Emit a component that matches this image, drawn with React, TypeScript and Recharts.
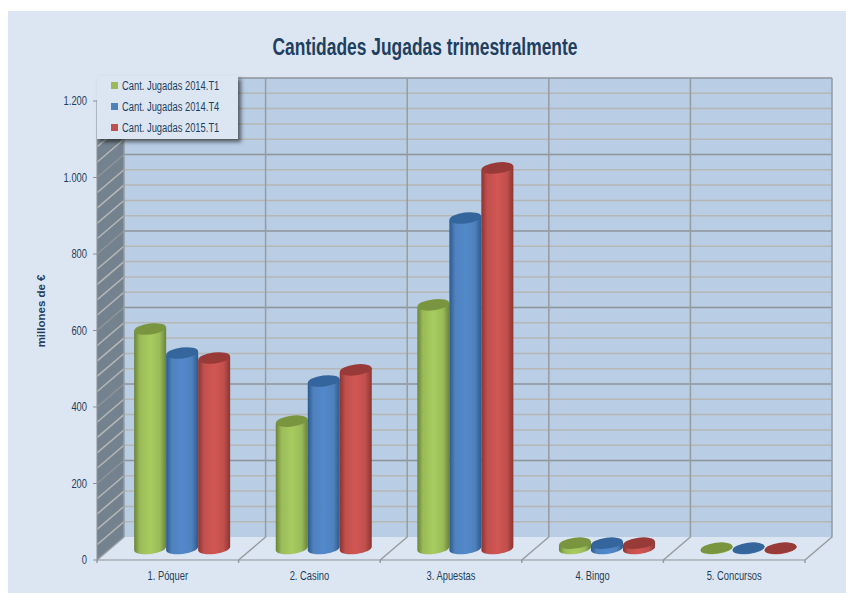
import { BarChart, Bar, XAxis, YAxis, ReferenceLine, ReferenceArea, Legend } from "recharts";

const CATEGORIES = ["1. Póquer", "2. Casino", "3. Apuestas", "4. Bingo", "5. Concursos"];
const JUGADAS_2014_T1 = [574, 333, 637, 14, 1];
const JUGADAS_2014_T4 = [511, 438, 864, 14, 1];
const JUGADAS_2015_T1 = [498, 467, 995, 14, 1];
const Y_TICKS = [0, 200, 400, 600, 800, 1000, 1200];
const MINOR_GRID = [40, 80, 120, 160, 240, 280, 320, 360, 440, 480, 520, 560, 640, 680, 720, 760, 840, 880, 920, 960, 1040, 1080, 1120, 1160];
const MAJOR_GRID = [200, 400, 600, 800, 1000, 1200];
const FLOOR_LINES = [0, 1, 2, 3, 4, 5];

const SERIES = [
  { key: "t1", name: "Cant. Jugadas 2014.T1", color: "#9bbb59", edge: "#6a8438", light: "#a8cc60", top: "#7a953f" },
  { key: "t4", name: "Cant. Jugadas 2014.T4", color: "#4f81bd", edge: "#2c5a8e", light: "#5289cc", top: "#34659c" },
  { key: "t5", name: "Cant. Jugadas 2015.T1", color: "#c0504d", edge: "#8b3432", light: "#d25653", top: "#973a38" },
];

const data = CATEGORIES.map((category, i) => ({
  category,
  slot: i,
  t1: JUGADAS_2014_T1[i],
  t4: JUGADAS_2014_T4[i],
  t5: JUGADAS_2015_T1[i],
}));

// depth of the fake 3d box
const DX = 27;
const DY = 23;
const FONT = '"Liberation Sans", sans-serif';
const TEXT = "#1f3f60";
const NARROW = 0.78;

const formatThousands = (v: number) =>
  v >= 1000 ? `${Math.floor(v / 1000)}.${String(v % 1000).padStart(3, "0")}` : `${v}`;

const Walls = ({ x, y, width, height }: any) => {
  const bottom = y + height;
  const right = x + width;
  return (
    <g>
      <polygon
        points={`${x + DX},${y - DY} ${right + DX},${y - DY} ${right + DX},${bottom - DY} ${x + DX},${bottom - DY}`}
        fill="#b9cde5"
      />
      <polygon
        points={`${x},${y} ${x + DX},${y - DY} ${x + DX},${bottom - DY} ${x},${bottom}`}
        fill="#74828f"
      />
    </g>
  );
};

const wallLine = (stroke: string) => ({ x1, y1, x2 }: any) => (
  <polyline
    points={`${x1},${y1} ${x1 + DX},${y1 - DY} ${x2 + DX},${y1 - DY}`}
    fill="none"
    stroke={stroke}
    strokeWidth={1.5}
  />
);

const FloorLine = ({ x1, y1, y2 }: any) => {
  const top = Math.min(y1, y2);
  const bottom = Math.max(y1, y2);
  return (
    <g fill="none" stroke="#979ca1" strokeWidth={1.5}>
      <polyline points={`${x1},${bottom} ${x1 + DX},${bottom - DY} ${x1 + DX},${top - DY}`} />
      <line x1={x1} y1={bottom} x2={x1} y2={bottom + 3} />
    </g>
  );
};

const Cylinder = ({ x, y, width, height, index, gradient, top }: any) => {
  const rx = width / 2;
  const ry = 5.5;
  const tilt = 2;
  const left = x + DX / 2 + 1;
  const right = left + width;
  const yTop = y - DY / 2;
  const yBottom = yTop + height;
  const d = `M${left},${yTop + tilt} L${left},${yBottom + tilt} A${rx} ${ry} -7 0 0 ${right},${yBottom - tilt} L${right},${yTop - tilt} Z`;
  return (
    <g key={index}>
      <path d={d} fill={`url(#${gradient})`} />
      <ellipse
        cx={left + rx}
        cy={yTop}
        rx={rx}
        ry={ry}
        fill={top}
        transform={`rotate(-7 ${left + rx} ${yTop})`}
      />
    </g>
  );
};

const LegendBox = () => (
  <div
    style={{
      width: 141,
      height: 63,
      background: "#dce6f2",
      boxShadow: "3px 3px 4px rgba(0,0,0,0.55)",
      fontFamily: FONT,
      fontSize: 12,
      color: TEXT,
      position: "relative",
    }}
  >
    {SERIES.map((s, i) => (
      <div key={s.key} style={{ position: "absolute", left: 14, top: 1 + i * 21, height: 18, lineHeight: "18px", whiteSpace: "nowrap" }}>
        <span style={{ display: "inline-block", width: 7, height: 7, background: s.color, marginRight: 4, verticalAlign: 1 }} />
        <span style={{ display: "inline-block", transform: `scaleX(${NARROW})`, transformOrigin: "left center" }}>{s.name}</span>
      </div>
    ))}
  </div>
);

const CategoryTick = ({ x, y, payload }: any) => (
  <text
    transform={`translate(${x},${y + 12}) scale(${NARROW},1)`}
    textAnchor="middle"
    fontFamily={FONT}
    fontSize={12}
    fill={TEXT}
  >
    {payload.value}
  </text>
);

const ValueTick = ({ x, y, payload }: any) => (
  <text
    transform={`translate(${x},${y + 4}) scale(${NARROW},1)`}
    textAnchor="end"
    fontFamily={FONT}
    fontSize={12}
    fill={TEXT}
  >
    {formatThousands(payload.value)}
  </text>
);

export default function App() {
  return (
    <div style={{ position: "absolute", left: 0, top: 0, width: 846, height: 593 }}>
      <div style={{ position: "absolute", left: 8, top: 11, width: 838, height: 582, background: "#dce6f2" }} />
      <BarChart
        width={846}
        height={593}
        data={data}
        margin={{ top: 101, right: 41, bottom: 3, left: 47 }}
        barCategoryGap="16%"
        barGap={0}
        style={{ position: "absolute", left: 0, top: 0 }}
      >
        <defs>
          {SERIES.map((s) => (
            <linearGradient key={s.key} id={`cyl-${s.key}`} x1="0" x2="1" y1="0" y2="0">
              <stop offset="0%" stopColor={s.edge} />
              <stop offset="18%" stopColor={s.color} />
              <stop offset="50%" stopColor={s.light} />
              <stop offset="80%" stopColor={s.color} />
              <stop offset="100%" stopColor={s.edge} />
            </linearGradient>
          ))}
        </defs>
        <text
          x={425}
          y={55}
          textAnchor="middle"
          fontFamily={FONT}
          fontSize={23}
          fontWeight="bold"
          fill={TEXT}
          textLength={305}
          lengthAdjust="spacingAndGlyphs"
        >
          Cantidades Jugadas trimestralmente
        </text>
        <XAxis dataKey="category" height={30} stroke="#8c9196" tickLine={false} tick={<CategoryTick />} interval={0} />
        <XAxis xAxisId="band" dataKey="slot" type="number" scale="linear" domain={[0, 5]} allowDataOverflow hide />
        <YAxis
          domain={[0, 1200]}
          ticks={Y_TICKS}
          stroke="#8c9196"
          tickSize={4}
          tickMargin={6}
          width={50}
          tick={<ValueTick />}
          label={{ value: "millones de €", angle: -90, position: "left", offset: 0, dx: -6, dy: -56, fontFamily: FONT, fontSize: 11.5, fontWeight: "bold", fill: TEXT }}
        />
        <ReferenceArea x1={0} x2={5} xAxisId="band" y1={0} y2={1200} shape={<Walls />} ifOverflow="visible" zIndex={10} />
        {MINOR_GRID.map((v) => (
          <ReferenceLine key={v} y={v} shape={wallLine("#b5b7b4")} ifOverflow="visible" zIndex={20} />
        ))}
        {MAJOR_GRID.map((v) => (
          <ReferenceLine key={v} y={v} shape={wallLine("#8f9499")} ifOverflow="visible" zIndex={30} />
        ))}
        {FLOOR_LINES.map((v) => (
          <ReferenceLine key={v} x={v} xAxisId="band" shape={<FloorLine />} ifOverflow="visible" zIndex={40} />
        ))}
        <Legend
          content={<LegendBox />}
          align="center"
          verticalAlign="middle"
          layout="horizontal"
          wrapperStyle={{ position: "absolute", left: 97, top: 76, width: 141, height: 63, bottom: "auto" }}
        />
        {SERIES.map((s) => (
          <Bar
            key={s.key}
            dataKey={s.key}
            name={s.name}
            fill={s.color}
            isAnimationActive={false}
            shape={<Cylinder gradient={`cyl-${s.key}`} top={s.top} />}
          />
        ))}
      </BarChart>
    </div>
  );
}
